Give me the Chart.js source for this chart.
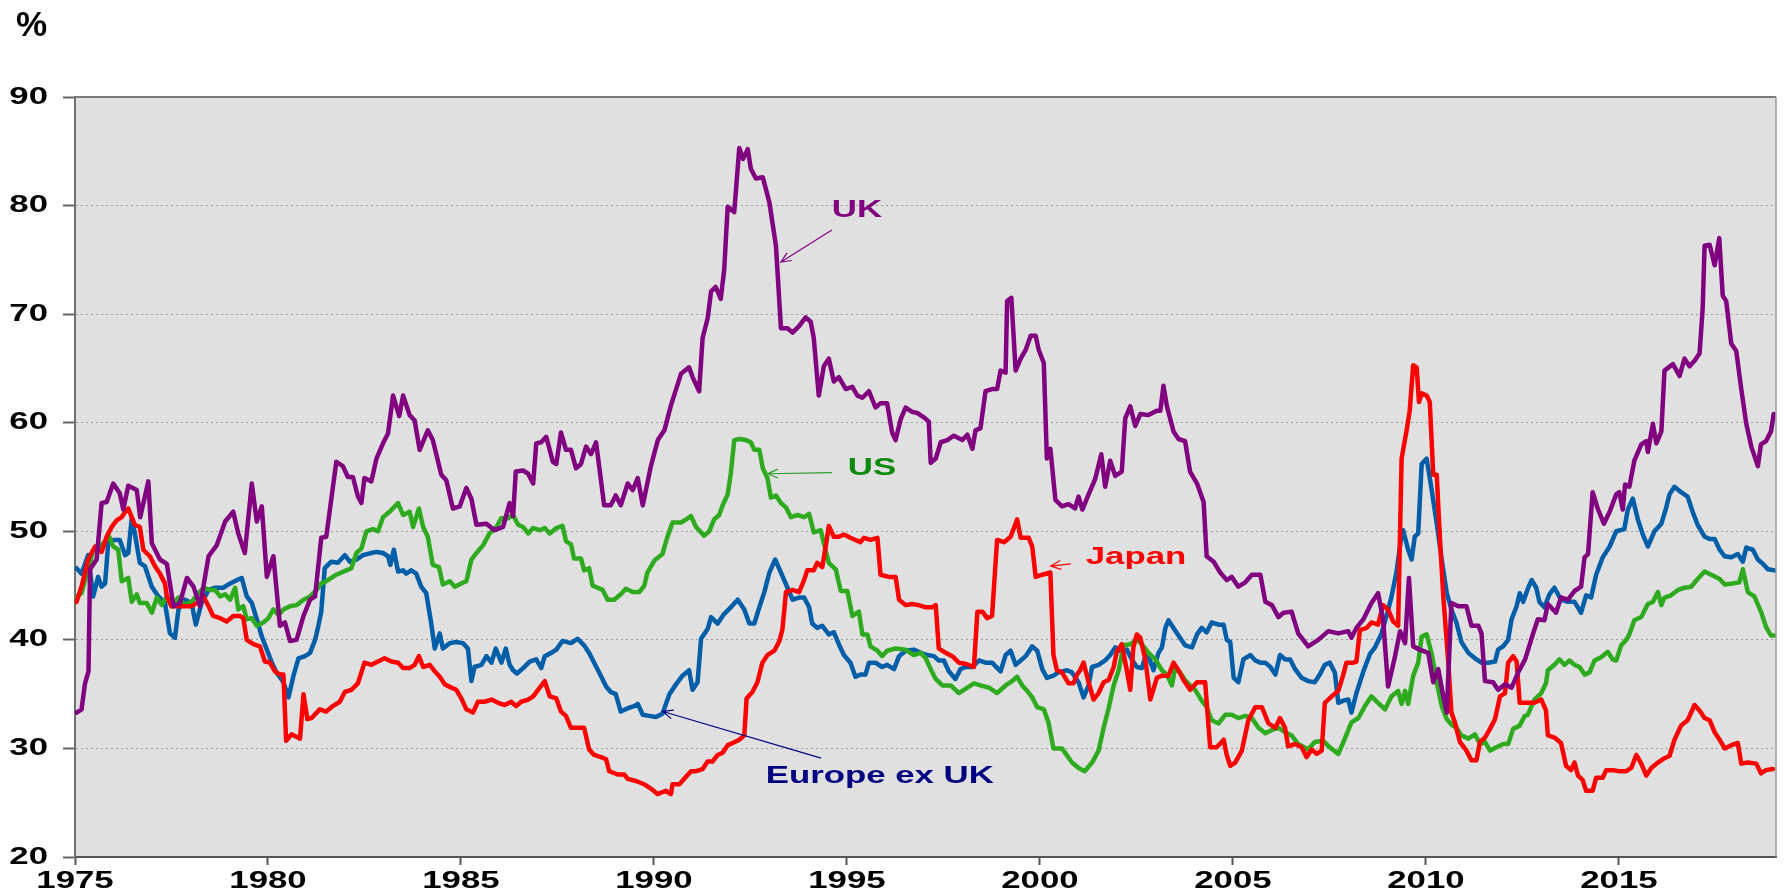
<!DOCTYPE html>
<html>
<head>
<meta charset="utf-8">
<script src="https://cdn.jsdelivr.net/npm/chart.js@4/dist/chart.umd.min.js"></script>
<style>
html,body{margin:0;padding:0;background:#ffffff;}
canvas{display:block;}
</style>
</head>
<body>
<canvas id="c" width="1785" height="893"></canvas>
<script>
// ---- axis ticks ----
const xTickValues = [1975, 1980, 1985, 1990, 1995, 2000, 2005, 2010, 2015];
const xTickLabels = ['1975', '1980', '1985', '1990', '1995', '2000', '2005', '2010', '2015'];
const yTickValues = [20, 30, 40, 50, 60, 70, 80, 90];
const yTickLabels = ['20', '30', '40', '50', '60', '70', '80', '90'];
const unitLabel = '%';

// ---- series: [year, value %] ----
const ukSeries = [
[1975.04,33.3],[1975.17,33.6],[1975.26,36],[1975.35,37.1],[1975.39,46.5],[1975.56,47.4],[1975.69,52.6],[1975.82,52.7],
[1975.99,54.4],[1976.16,53.5],[1976.25,52],[1976.38,54.2],[1976.6,53.8],[1976.69,51.3],[1976.9,54.6],[1976.99,48.9],
[1977.2,47.4],[1977.38,47],[1977.55,43.1],[1977.72,43.4],[1977.9,45.7],[1978.07,44.9],[1978.24,43.1],[1978.46,47.7],
[1978.67,48.7],[1978.89,50.9],[1979.1,51.8],[1979.23,49.8],[1979.4,48],[1979.58,54.4],[1979.71,50.9],[1979.84,52.3],
[1979.97,45.8],[1980.14,47.7],[1980.31,41.3],[1980.44,41.6],[1980.57,39.9],[1980.74,40],[1980.92,42.2],[1981.09,43.7],
[1981.22,44],[1981.38,49.4],[1981.51,49.5],[1981.77,56.4],[1981.94,56],[1982.07,55],[1982.2,55],[1982.33,53.2],
[1982.42,52.6],[1982.5,54.9],[1982.68,54.6],[1982.81,56.7],[1982.98,58.1],[1983.11,59],[1983.24,62.5],[1983.4,60.6],
[1983.5,62.5],[1983.67,60.7],[1983.8,60.2],[1983.93,57.5],[1984.14,59.3],[1984.27,58.4],[1984.49,55.2],[1984.62,54.7],
[1984.79,52.1],[1984.97,52.3],[1985.14,54],[1985.27,53],[1985.4,50.6],[1985.66,50.7],[1985.87,50.1],[1986.09,50.4],
[1986.26,52.6],[1986.35,51.4],[1986.42,55.5],[1986.61,55.6],[1986.74,55.3],[1986.87,54.4],[1986.95,58.1],[1987.08,58.2],
[1987.21,58.7],[1987.38,56.4],[1987.47,56.2],[1987.59,59.1],[1987.72,57.5],[1987.85,57.5],[1987.98,55.8],[1988.11,56.2],
[1988.24,57.8],[1988.37,57.1],[1988.5,58.2],[1988.71,52.4],[1988.88,52.4],[1989.01,53.3],[1989.14,52.4],[1989.32,54.4],
[1989.45,53.8],[1989.58,54.9],[1989.71,52.4],[1989.92,56],[1990.1,58.4],[1990.27,59.3],[1990.44,61.6],[1990.7,64.5],
[1990.91,65.1],[1991.0,64.2],[1991.17,62.9],[1991.26,67.8],[1991.39,69.6],[1991.48,72.1],[1991.6,72.5],[1991.73,71.4],
[1991.82,74.1],[1991.91,79.9],[1992.08,79.4],[1992.21,85.3],[1992.31,84.3],[1992.43,85.2],[1992.51,83.4],[1992.64,82.5],
[1992.82,82.6],[1992.99,80.3],[1993.16,76.3],[1993.29,68.7],[1993.46,68.7],[1993.59,68.3],[1993.76,68.9],[1993.93,69.7],
[1994.06,69.3],[1994.14,67.8],[1994.27,62.5],[1994.4,65.2],[1994.53,65.9],[1994.66,63.8],[1994.79,64.2],[1994.97,63.1],
[1995.14,63.3],[1995.27,62.5],[1995.4,62.3],[1995.57,62.9],[1995.74,61.4],[1995.87,61.8],[1996.04,61.8],[1996.17,59.1],
[1996.26,58.4],[1996.39,60.3],[1996.52,61.4],[1996.69,61],[1996.82,60.9],[1996.99,60.5],[1997.12,60.1],[1997.17,56.3],
[1997.3,56.7],[1997.43,58.2],[1997.6,58.4],[1997.77,58.8],[1997.99,58.4],[1998.12,58.9],[1998.25,57.6],[1998.33,59.3],
[1998.46,59.5],[1998.59,62.9],[1998.76,63.1],[1998.89,63.1],[1998.98,64.8],[1999.11,64.6],[1999.15,71.2],[1999.26,71.5],
[1999.37,64.8],[1999.5,65.9],[1999.63,66.7],[1999.76,68],[1999.89,68],[1999.97,66.7],[2000.1,65.5],[2000.18,56.7],
[2000.27,57.6],[2000.4,52.9],[2000.57,52.3],[2000.74,52.5],[2000.91,52.1],[2001.0,53.2],[2001.1,52],[2001.26,53.4],
[2001.43,54.8],[2001.59,57.1],[2001.69,54.1],[2001.82,56.5],[2001.95,55.1],[2002.12,55.5],[2002.21,60.4],[2002.34,61.5],
[2002.47,59.7],[2002.6,60.8],[2002.81,60.7],[2003.03,61.1],[2003.12,61.1],[2003.2,63.4],[2003.29,61.5],[2003.46,59.2],
[2003.59,58.5],[2003.76,58.3],[2003.89,55.5],[2004.07,54.4],[2004.24,52.7],[2004.32,47.7],[2004.5,47.2],[2004.67,46.2],
[2004.84,45.5],[2004.97,45.8],[2005.14,44.9],[2005.32,45.3],[2005.49,46],[2005.71,46],[2005.84,43.5],[2006.01,43.2],
[2006.18,42.1],[2006.31,42.5],[2006.52,42.6],[2006.69,40.6],[2006.95,39.4],[2007.21,40],[2007.47,40.8],[2007.73,40.6],
[2007.99,40.8],[2008.07,40.2],[2008.2,41.1],[2008.38,41.9],[2008.59,43.4],[2008.76,44.3],[2008.89,41.9],[2009.02,35.7],
[2009.2,38.5],[2009.33,40.8],[2009.46,39.7],[2009.56,45.7],[2009.67,39.4],[2009.84,39.1],[2010.06,38.8],[2010.19,36.1],
[2010.32,37.3],[2010.45,34.8],[2010.54,33.3],[2010.66,43.4],[2010.84,43.1],[2011.05,43.1],[2011.18,41.3],[2011.36,41.3],
[2011.44,40.6],[2011.53,36.2],[2011.74,36.1],[2011.87,35.4],[2012.05,35.9],[2012.22,35.6],[2012.39,37],[2012.57,38.2],
[2012.77,40.5],[2012.9,41.9],[2013.07,41.8],[2013.16,43.3],[2013.24,43],[2013.37,42.5],[2013.5,43.9],[2013.68,43.7],
[2013.85,44.5],[2014.02,44.9],[2014.11,47.6],[2014.2,47.9],[2014.32,53.6],[2014.45,52.1],[2014.61,50.7],[2014.76,51.8],
[2014.93,53.4],[2015.01,53.6],[2015.1,52],[2015.16,54.3],[2015.27,54.1],[2015.4,56.5],[2015.58,58],[2015.71,58.3],
[2015.75,57.3],[2015.88,59.9],[2015.97,58.1],[2016.1,59.2],[2016.18,64.8],[2016.4,65.4],[2016.57,64.3],[2016.7,65.9],
[2016.83,65.2],[2016.96,65.7],[2017.09,66.4],[2017.17,70.5],[2017.22,76.3],[2017.35,76.4],[2017.48,74.5],[2017.6,77],
[2017.69,71.7],[2017.78,71.2],[2017.91,67.3],[2018.04,66.6],[2018.17,63.1],[2018.3,59.9],[2018.43,57.8],[2018.6,56],
[2018.68,58],[2018.81,58.3],[2018.94,59.2],[2019.01,60.8]
];

const usSeries = [
[1975.04,44],[1975.17,44.3],[1975.26,45.5],[1975.39,47.1],[1975.47,48.3],[1975.65,48.6],[1975.78,49.1],[1975.89,49.5],
[1975.99,48.6],[1976.12,48.3],[1976.21,45.4],[1976.38,45.7],[1976.47,43.5],[1976.6,44.2],[1976.68,43.4],[1976.86,43.4],
[1976.99,42.5],[1977.12,43.9],[1977.25,43.2],[1977.38,44],[1977.5,43.1],[1977.68,43.9],[1977.85,43.2],[1978.02,43.5],
[1978.2,44.3],[1978.33,44.8],[1978.5,44.6],[1978.63,44.6],[1978.76,44],[1978.89,44.2],[1979.02,43.7],[1979.15,44.8],
[1979.23,42.8],[1979.36,43.1],[1979.45,41.9],[1979.58,42],[1979.71,41.3],[1979.88,41.6],[1980.01,42],[1980.14,42.8],
[1980.27,42.3],[1980.4,42.8],[1980.57,43.1],[1980.74,43.2],[1980.92,43.7],[1981.09,44],[1981.26,44.6],[1981.38,45.2],
[1981.51,45.4],[1981.77,46],[1982.03,46.4],[1982.16,46.6],[1982.29,48],[1982.42,48.4],[1982.55,50],[1982.72,50.2],
[1982.85,50],[1982.98,51.3],[1983.15,51.8],[1983.37,52.6],[1983.5,51.5],[1983.67,51.8],[1983.76,50.4],[1983.91,52.1],
[1984.02,50.4],[1984.14,49.5],[1984.27,46.9],[1984.43,46.7],[1984.53,45.1],[1984.71,45.4],[1984.84,44.9],[1985.01,45.2],
[1985.14,45.4],[1985.27,47.4],[1985.4,48],[1985.57,48.7],[1985.74,49.8],[1985.92,50.4],[1986.04,51.2],[1986.22,51.2],
[1986.35,51.5],[1986.48,50.6],[1986.61,50.4],[1986.74,49.8],[1986.87,50.3],[1987.04,50.1],[1987.17,50.3],[1987.3,49.8],
[1987.47,50.3],[1987.63,50.5],[1987.72,49.1],[1987.85,48.8],[1987.93,47.5],[1988.11,47.5],[1988.19,46.4],[1988.32,46.6],
[1988.41,45],[1988.54,44.8],[1988.67,44.6],[1988.8,43.7],[1988.97,43.7],[1989.14,44.2],[1989.27,44.7],[1989.45,44.4],
[1989.62,44.4],[1989.75,45],[1989.83,46.2],[1990.01,47.3],[1990.22,47.9],[1990.35,49.5],[1990.48,50.8],[1990.7,50.8],
[1990.96,51.4],[1991.09,50.4],[1991.3,49.6],[1991.43,50],[1991.56,51.1],[1991.69,51.5],[1991.78,52.4],[1991.91,53.4],
[1991.99,55.3],[1992.08,58.4],[1992.21,58.5],[1992.38,58.4],[1992.51,58.2],[1992.6,57.5],[1992.73,57.5],[1992.82,55.8],
[1992.94,54.9],[1993.03,53.1],[1993.16,53.3],[1993.29,52.6],[1993.42,52.2],[1993.55,51.3],[1993.72,51.5],[1993.89,51.3],
[1994.02,51.6],[1994.14,49.9],[1994.32,50.1],[1994.45,48.2],[1994.53,47.1],[1994.71,46.5],[1994.84,44.5],[1995.01,44.5],
[1995.14,42.2],[1995.31,42.6],[1995.4,40.5],[1995.53,40.5],[1995.61,39.4],[1995.79,39],[1995.91,38.5],[1996.04,39],
[1996.26,39.2],[1996.52,39.1],[1996.73,38.6],[1996.91,38.8],[1997.04,38.3],[1997.17,37.3],[1997.3,36.4],[1997.47,35.8],
[1997.69,35.8],[1997.9,35.1],[1998.12,35.6],[1998.29,36],[1998.46,35.8],[1998.68,35.6],[1998.89,35.1],[1999.11,35.8],
[1999.28,36.2],[1999.41,36.6],[1999.54,35.8],[1999.67,35.3],[1999.8,34.7],[1999.93,33.8],[2000.1,33.6],[2000.22,32.4],
[2000.35,30],[2000.57,30],[2000.83,28.7],[2001.0,28.2],[2001.16,27.9],[2001.35,28.7],[2001.52,29.8],[2001.65,31.9],
[2001.78,33.7],[2001.91,35.8],[2002.04,37.2],[2002.17,39.5],[2002.34,39.6],[2002.51,40],[2002.64,39.6],[2002.81,38.8],
[2002.99,38.2],[2003.16,37.2],[2003.29,36.8],[2003.42,35.8],[2003.5,37.4],[2003.63,37],[2003.76,36.3],[2003.89,35.8],
[2004.02,35.4],[2004.19,34.4],[2004.32,33.8],[2004.45,32.6],[2004.63,32.3],[2004.8,33.1],[2004.97,33.1],[2005.14,32.8],
[2005.32,33],[2005.49,32.8],[2005.66,31.9],[2005.84,31.4],[2006.01,31.7],[2006.18,31.9],[2006.35,31.5],[2006.52,31.2],
[2006.69,30.4],[2006.95,29.9],[2007.12,30.6],[2007.34,30.7],[2007.51,30.1],[2007.73,29.5],[2007.9,30.9],[2008.07,32.4],
[2008.25,32.8],[2008.42,33.9],[2008.59,34.8],[2008.76,34.2],[2008.94,33.6],[2009.11,34.8],[2009.28,35.3],[2009.37,34.1],
[2009.46,35.3],[2009.54,34.1],[2009.67,36.7],[2009.8,37.9],[2009.89,40.3],[2010.02,40.5],[2010.15,38.7],[2010.28,36.1],
[2010.41,33.9],[2010.54,32.7],[2010.66,32.2],[2010.79,31.9],[2010.92,31.2],[2011.1,30.9],[2011.27,31.3],[2011.4,30.4],
[2011.53,30.6],[2011.66,29.8],[2011.83,30.1],[2012.0,30.4],[2012.13,30.4],[2012.26,31.8],[2012.43,32.1],[2012.56,33],
[2012.64,33.1],[2012.81,34.5],[2012.99,35.1],[2013.11,36],[2013.16,37.2],[2013.33,37.7],[2013.46,38.2],[2013.59,37.7],
[2013.72,38.1],[2013.85,37.7],[2013.98,37.5],[2014.11,36.8],[2014.24,37],[2014.37,38.1],[2014.54,38.4],[2014.71,38.9],
[2014.84,38.2],[2014.93,38.1],[2015.06,39.5],[2015.19,40],[2015.27,40.5],[2015.4,41.8],[2015.58,42.1],[2015.75,43.3],
[2015.88,43.5],[2016.01,44.4],[2016.1,43.2],[2016.18,43.9],[2016.35,44.1],[2016.53,44.6],[2016.7,44.8],[2016.87,44.9],
[2017.04,45.6],[2017.22,46.3],[2017.39,46],[2017.61,45.6],[2017.74,45.1],[2017.95,45.2],[2018.12,45.3],[2018.21,46.5],
[2018.34,44.4],[2018.51,44],[2018.68,42.6],[2018.81,41.2],[2018.94,40.4],[2019.03,40.4]
];

const europeSeries = [
[1975.04,46.6],[1975.17,46.1],[1975.34,47.8],[1975.47,44],[1975.6,45.8],[1975.69,44.9],[1975.78,45.2],[1975.86,48.9],
[1975.99,49.2],[1976.16,49.2],[1976.3,47.8],[1976.38,48],[1976.47,51.2],[1976.55,49.8],[1976.68,47.1],[1976.81,46.8],
[1976.99,44.9],[1977.16,44],[1977.33,43.4],[1977.46,40.6],[1977.59,40.2],[1977.68,42.8],[1977.85,43.7],[1978.02,43.4],
[1978.13,41.4],[1978.28,43.4],[1978.46,44.6],[1978.63,44.8],[1978.84,44.8],[1979.02,45.2],[1979.19,45.5],[1979.32,45.7],
[1979.45,44],[1979.58,43.4],[1979.71,41.9],[1979.84,40.3],[1979.97,39.1],[1980.1,37.9],[1980.22,37],[1980.4,36.1],
[1980.53,34.7],[1980.66,36.7],[1980.79,38.3],[1980.96,38.5],[1981.09,38.8],[1981.22,40],[1981.3,41.2],[1981.38,42.6],
[1981.47,46.6],[1981.64,47.2],[1981.81,47.1],[1981.99,47.8],[1982.12,47.2],[1982.29,47.4],[1982.46,47.8],[1982.68,48],
[1982.81,48.1],[1982.98,48],[1983.11,47.7],[1983.17,46.9],[1983.26,48.3],[1983.37,46.3],[1983.5,46.4],[1983.58,46.1],
[1983.71,46.4],[1983.84,46.1],[1983.97,44.9],[1984.1,44.3],[1984.23,41.5],[1984.32,39.2],[1984.45,40.6],[1984.53,39.2],
[1984.71,39.7],[1984.88,39.8],[1985.05,39.7],[1985.18,39.2],[1985.27,36.2],[1985.35,37.5],[1985.53,37.7],[1985.66,38.5],
[1985.79,37.9],[1985.9,39.2],[1986.05,37.9],[1986.16,39.2],[1986.26,37.7],[1986.35,37.2],[1986.45,36.9],[1986.61,37.4],
[1986.78,38],[1986.95,38.2],[1987.08,37.4],[1987.17,38.5],[1987.34,38.8],[1987.47,39.1],[1987.63,39.9],[1987.85,39.7],
[1988.02,40.1],[1988.19,39.5],[1988.32,38.8],[1988.45,37.9],[1988.58,37],[1988.76,35.7],[1988.88,35.2],[1989.01,35],
[1989.14,33.4],[1989.32,33.7],[1989.49,33.9],[1989.58,34.1],[1989.71,33.1],[1989.88,33],[1990.05,32.9],[1990.22,33.2],
[1990.4,35],[1990.57,35.9],[1990.74,36.7],[1990.91,37.2],[1991.0,35.4],[1991.13,36.1],[1991.22,40.1],[1991.39,41],
[1991.48,42.1],[1991.65,41.5],[1991.82,42.4],[1991.99,43],[1992.17,43.7],[1992.34,42.8],[1992.47,41.5],[1992.6,41.5],
[1992.73,43],[1992.86,44.4],[1992.99,46.2],[1993.14,47.4],[1993.29,46.2],[1993.46,44.8],[1993.59,43.7],[1993.76,43.9],
[1993.89,43.9],[1994.02,43],[1994.1,41.5],[1994.23,41.1],[1994.36,41.3],[1994.53,40.5],[1994.66,40.7],[1994.79,39.6],
[1994.92,38.6],[1995.09,37.9],[1995.22,36.6],[1995.35,36.8],[1995.48,36.8],[1995.57,37.9],[1995.74,37.9],[1995.91,37.5],
[1996.04,37.7],[1996.22,37.3],[1996.35,38.5],[1996.52,39],[1996.73,39.1],[1996.91,38.8],[1997.08,38.6],[1997.25,38.5],
[1997.38,38.1],[1997.51,38.1],[1997.64,37.1],[1997.81,36.4],[1997.94,37.3],[1998.07,37.5],[1998.25,37.5],[1998.42,38.1],
[1998.59,37.9],[1998.76,37.9],[1998.98,37.1],[1999.11,38.6],[1999.24,39],[1999.37,37.7],[1999.5,38.1],[1999.63,38.5],
[1999.8,39.4],[1999.93,39],[2000.06,37.3],[2000.18,36.5],[2000.35,36.7],[2000.48,37],[2000.7,37.2],[2000.83,37],
[2001.0,36.1],[2001.13,34.7],[2001.26,35.8],[2001.35,37.5],[2001.52,37.7],[2001.69,38.1],[2001.82,38.6],[2001.95,39.3],
[2002.12,38.9],[2002.25,39.1],[2002.38,38.2],[2002.51,37.5],[2002.64,37.4],[2002.77,38.9],[2002.94,37.2],[2003.07,38.8],
[2003.16,39.3],[2003.25,41.1],[2003.33,41.8],[2003.46,41.1],[2003.59,40.4],[2003.76,39.5],[2003.94,39.3],[2004.07,40.5],
[2004.19,41.1],[2004.32,40.7],[2004.45,41.6],[2004.63,41.4],[2004.76,41.4],[2004.84,40],[2004.93,39.8],[2005.02,36.5],
[2005.14,36.1],[2005.27,38.2],[2005.45,38.6],[2005.58,38.1],[2005.71,37.9],[2005.84,37.9],[2005.97,37.5],[2006.1,36.8],
[2006.22,38.6],[2006.35,38.2],[2006.48,38.2],[2006.61,37.3],[2006.78,36.5],[2006.95,36.2],[2007.12,36.1],[2007.25,36.8],
[2007.38,37.7],[2007.51,37.9],[2007.64,37],[2007.73,34.2],[2007.86,34.4],[2007.99,34.5],[2008.07,33.3],[2008.2,35.1],
[2008.38,37.1],[2008.55,38.7],[2008.68,39.3],[2008.85,40.6],[2008.98,42.2],[2009.11,44],[2009.24,46.3],[2009.35,49.2],
[2009.41,50.1],[2009.54,48.3],[2009.63,47.4],[2009.71,49.5],[2009.8,49.8],[2009.89,56.2],[2010.02,56.7],[2010.15,53.8],
[2010.28,50.7],[2010.41,47.4],[2010.54,44.3],[2010.66,42.8],[2010.79,41.6],[2010.92,39.8],[2011.1,38.8],[2011.27,38.3],
[2011.44,37.9],[2011.61,37.9],[2011.79,38],[2011.87,39.1],[2012.0,39.4],[2012.13,40],[2012.22,41.9],[2012.35,43.1],
[2012.43,44.3],[2012.52,43.5],[2012.65,44.8],[2012.74,45.5],[2012.86,44.8],[2012.94,43.5],[2013.07,43],[2013.2,44.2],
[2013.33,44.8],[2013.5,43.7],[2013.68,43.5],[2013.85,43.5],[2014.02,42.5],[2014.15,44.1],[2014.28,43.9],[2014.41,46],
[2014.58,47.6],[2014.76,48.6],[2014.93,50],[2015.14,50.2],[2015.23,52],[2015.36,53],[2015.49,51.1],[2015.62,49.7],
[2015.75,48.6],[2015.92,50],[2016.1,50.7],[2016.22,52.1],[2016.31,53.4],[2016.44,54.1],[2016.61,53.6],[2016.78,53.2],
[2016.91,51.8],[2017.04,50.6],[2017.22,49.5],[2017.35,49.3],[2017.48,49.3],[2017.61,48.3],[2017.74,47.7],[2017.91,47.6],
[2018.08,47.9],[2018.21,47.2],[2018.3,48.5],[2018.47,48.3],[2018.6,47.4],[2018.73,47],[2018.86,46.5],[2019.03,46.4]
];

const japanSeries = [
[1975.04,43.5],[1975.17,44.9],[1975.34,47.4],[1975.52,48.6],[1975.69,48.1],[1975.82,49.5],[1975.95,50.4],[1976.08,51],
[1976.21,51.3],[1976.3,51.8],[1976.38,52.1],[1976.47,51.3],[1976.55,50.6],[1976.68,50.4],[1976.77,48.3],[1976.94,47.7],
[1977.07,46.8],[1977.2,46.1],[1977.33,45.2],[1977.38,44],[1977.5,43.1],[1977.68,43.1],[1977.85,43.1],[1978.02,43.1],
[1978.2,43.5],[1978.33,44],[1978.46,43.1],[1978.58,42.2],[1978.76,42],[1978.93,41.7],[1979.1,42.2],[1979.27,42.2],
[1979.36,42],[1979.45,40],[1979.62,39.6],[1979.79,39.4],[1979.92,38],[1980.05,37.9],[1980.18,37.1],[1980.31,36.8],
[1980.4,36.8],[1980.47,30.7],[1980.61,31.3],[1980.83,30.9],[1980.92,35],[1981.02,32.7],[1981.13,32.8],[1981.34,33.6],
[1981.51,33.4],[1981.68,33.9],[1981.86,34.3],[1981.99,35.2],[1982.16,35.4],[1982.33,36],[1982.5,37.9],[1982.68,37.7],
[1982.85,38],[1983.02,38.3],[1983.2,38],[1983.37,37.9],[1983.5,37.4],[1983.67,37.4],[1983.8,37.7],[1983.91,38.5],
[1984.02,37.5],[1984.19,37.7],[1984.32,37.1],[1984.45,36.6],[1984.58,35.9],[1984.75,35.6],[1984.88,35.4],[1985.01,34.6],
[1985.14,33.6],[1985.31,33.3],[1985.44,34.3],[1985.61,34.3],[1985.79,34.5],[1985.96,34.2],[1986.13,34],[1986.3,34.3],
[1986.43,33.9],[1986.56,34.3],[1986.74,34.5],[1986.87,34.8],[1987.04,35.6],[1987.17,36.2],[1987.3,34.8],[1987.47,34.6],
[1987.59,33.4],[1987.72,33],[1987.85,31.9],[1988.02,31.9],[1988.19,31.9],[1988.32,29.9],[1988.45,29.4],[1988.63,29.2],
[1988.76,29],[1988.84,27.9],[1989.06,27.6],[1989.23,27.6],[1989.32,27.2],[1989.53,27],[1989.75,26.7],[1989.92,26.3],
[1990.09,25.8],[1990.31,26.1],[1990.44,25.8],[1990.48,26.7],[1990.66,26.7],[1990.83,27.4],[1990.96,27.9],[1991.09,27.9],
[1991.26,28.1],[1991.39,28.8],[1991.52,28.8],[1991.65,29.4],[1991.78,29.6],[1991.91,30.3],[1992.04,30.5],[1992.21,30.8],
[1992.34,31.2],[1992.4,34.6],[1992.55,35.2],[1992.68,36.1],[1992.81,37.9],[1992.94,38.6],[1993.12,39],[1993.25,39.9],
[1993.33,41],[1993.42,44.4],[1993.59,44.6],[1993.76,44.4],[1993.89,45.5],[1993.97,46.4],[1994.14,46.4],[1994.23,47.1],
[1994.36,46.7],[1994.45,48.6],[1994.53,50.5],[1994.66,49.5],[1994.79,49.5],[1994.92,49.7],[1995.09,49.4],[1995.22,49.2],
[1995.35,49],[1995.44,49.4],[1995.61,49.2],[1995.79,49.4],[1995.87,46],[1996.09,45.8],[1996.26,45.8],[1996.35,43.7],
[1996.52,43.2],[1996.69,43.3],[1996.86,43.2],[1997.04,43],[1997.21,43],[1997.3,43.2],[1997.38,39.2],[1997.56,38.8],
[1997.73,38.5],[1997.9,37.9],[1998.07,37.8],[1998.29,37.5],[1998.38,42.6],[1998.51,42.6],[1998.63,42],[1998.76,42.2],
[1998.89,49.2],[1999.07,49],[1999.24,49.5],[1999.41,51.1],[1999.5,49.4],[1999.71,49.4],[1999.8,48.6],[1999.89,45.8],
[2000.06,46],[2000.27,46.2],[2000.35,38.6],[2000.44,37.2],[2000.57,37],[2000.74,36],[2000.87,36],[2000.96,36.8],
[2001.04,37.2],[2001.13,37.9],[2001.26,36.1],[2001.39,34.5],[2001.52,35.1],[2001.65,36.1],[2001.78,36.3],[2001.91,37.5],
[2001.99,38.9],[2002.12,39.6],[2002.25,37.2],[2002.34,35.4],[2002.42,39.3],[2002.51,40.5],[2002.6,40.2],[2002.73,38.2],
[2002.86,34.5],[2003.03,36.5],[2003.16,36.7],[2003.33,36.7],[2003.46,37.9],[2003.59,37.2],[2003.72,36.3],[2003.89,35.4],
[2004.07,36.1],[2004.28,36.1],[2004.41,30.1],[2004.58,30.1],[2004.76,30.8],[2004.84,29.4],[2004.93,28.4],[2005.06,28.7],
[2005.23,29.8],[2005.4,32.6],[2005.58,33.8],[2005.75,33.8],[2005.92,32.3],[2006.1,31.9],[2006.22,32.8],[2006.35,31.9],
[2006.43,30.2],[2006.61,30.4],[2006.78,30.1],[2006.91,29.2],[2007.04,29.9],[2007.17,29.5],[2007.3,29.8],[2007.38,34.2],
[2007.56,34.8],[2007.73,35.3],[2007.86,36.8],[2007.94,37.9],[2008.12,37.9],[2008.2,38],[2008.29,40.9],[2008.46,41.1],
[2008.59,41.6],[2008.76,41.4],[2008.89,43.2],[2009.02,42.8],[2009.15,41.7],[2009.28,41.3],[2009.37,56.7],[2009.5,59.3],
[2009.58,61.1],[2009.67,65.3],[2009.76,65.1],[2009.82,61.9],[2009.89,62.7],[2010.02,62.5],[2010.1,61.9],[2010.19,55.2],
[2010.28,55.2],[2010.36,49.5],[2010.45,44],[2010.58,37.9],[2010.66,33.3],[2010.75,32.4],[2010.88,30.6],[2011.05,29.8],
[2011.18,28.9],[2011.31,28.9],[2011.4,30.6],[2011.53,31],[2011.66,31.8],[2011.79,32.7],[2011.92,34.8],[2012.05,35.1],
[2012.13,37.9],[2012.26,38.5],[2012.35,38],[2012.43,34.2],[2012.61,34.2],[2012.81,34.2],[2012.99,34.5],[2013.11,33.5],
[2013.16,31.2],[2013.33,31],[2013.5,30.5],[2013.63,28.4],[2013.76,28],[2013.85,28.7],[2013.94,27.5],[2014.06,27.1],
[2014.15,26.1],[2014.32,26.1],[2014.41,27.3],[2014.58,27.3],[2014.67,28],[2014.84,28],[2015.01,27.9],[2015.19,27.9],
[2015.32,28.2],[2015.45,29.4],[2015.58,28.6],[2015.71,27.5],[2015.84,28.2],[2016.01,28.7],[2016.18,29.1],[2016.31,29.3],
[2016.44,30.8],[2016.61,32.1],[2016.78,32.6],[2016.96,34],[2017.09,33.5],[2017.22,32.8],[2017.35,32.6],[2017.48,31.5],
[2017.61,30.8],[2017.74,30],[2017.91,30.3],[2018.08,30.5],[2018.17,28.6],[2018.34,28.7],[2018.56,28.6],[2018.68,27.7],
[2018.81,28],[2018.99,28.1]
];

const seriesNames = ['UK', 'Japan', 'US', 'Europe ex UK'];

// ---- styling / annotation layout (kept apart from the data) ----
const seriesColors = ['#800080', '#ff0000', '#2eaa1e', '#005ea8'];
const labelColors  = ['#800080', '#ff0000', '#0a8a0a', '#000080'];
const arrowColors  = ['#800080', '#ff0000', '#2a9a2a', '#000080'];
const labelSpecs = [
  {text: 'UK',           tx: 1995.26, ty: 79.6, ax: 1994.61, ay: 77.75, bx: 1993.29, by: 74.8},
  {text: 'Japan',        tx: 2002.49, ty: 47.6, ax: 2000.80, ay: 47.0,  bx: 2000.28, by: 46.8},
  {text: 'US',           tx: 1995.65, ty: 55.8, ax: 1994.61, ay: 55.4,  bx: 1992.95, by: 55.3},
  {text: 'Europe ex UK', tx: 1995.85, ty: 27.4, ax: 1994.33, ay: 29.1,  bx: 1990.23, by: 33.4}
];
const TEXT_STRETCH = 1.45;   // the original lettering is horizontally widened

const toPoints = s => s.map(p => ({x: p[0], y: p[1]}));
const allSeries = [ukSeries, japanSeries, usSeries, europeSeries];

// widen every glyph run drawn on the chart canvas around its anchor point
function installStretch(ctx) {
  if (ctx.__stretchInstalled) return;
  const orig = ctx.fillText;
  ctx.fillText = function (text, x, y) {
    const k = this.__hStretch || 1;
    if (k === 1) return orig.call(this, text, x, y);
    this.save();
    this.translate(x, y);
    this.scale(k, 1);
    orig.call(this, text, 0, 0);
    this.restore();
  };
  ctx.__stretchInstalled = true;
}

const framePlugin = {
  id: 'frame',
  beforeDraw(chart) {
    const {ctx, chartArea: a} = chart;
    installStretch(ctx);
    ctx.__hStretch = TEXT_STRETCH;
    ctx.save();
    ctx.fillStyle = '#e0e0e0';
    ctx.fillRect(a.left, a.top, a.right - a.left, a.bottom - a.top);
    ctx.restore();
  },
  afterDraw(chart) {
    const {ctx, chartArea: a, scales} = chart;
    const xs = scales.x, ys = scales.y;
    ctx.save();
    // top and right frame
    ctx.strokeStyle = '#7a7a7a';
    ctx.lineWidth = 2;
    ctx.beginPath();
    ctx.moveTo(a.left, a.top); ctx.lineTo(a.right, a.top);
    ctx.stroke();
    ctx.strokeStyle = '#9a9a9a';
    ctx.lineWidth = 1.5;
    ctx.beginPath();
    ctx.moveTo(a.right, a.top); ctx.lineTo(a.right, a.bottom);
    ctx.stroke();

    // series labels with arrows
    labelSpecs.forEach((s, i) => {
      const fx = xs.getPixelForValue(s.ax), fy = ys.getPixelForValue(s.ay);
      const tx = xs.getPixelForValue(s.bx), ty = ys.getPixelForValue(s.by);
      ctx.strokeStyle = arrowColors[i];
      ctx.lineWidth = 1.2;
      ctx.beginPath();
      ctx.moveTo(fx, fy); ctx.lineTo(tx, ty);
      const ang = Math.atan2(ty - fy, tx - fx);
      const L = 11, w = 0.42;
      ctx.moveTo(tx - L * Math.cos(ang - w), ty - L * Math.sin(ang - w));
      ctx.lineTo(tx, ty);
      ctx.lineTo(tx - L * Math.cos(ang + w), ty - L * Math.sin(ang + w));
      ctx.stroke();

      ctx.__hStretch = TEXT_STRETCH;
      ctx.font = 'bold 24px "Liberation Sans", Arial, sans-serif';
      ctx.fillStyle = labelColors[i];
      ctx.textAlign = 'center';
      ctx.textBaseline = 'middle';
      ctx.fillText(s.text, xs.getPixelForValue(s.tx), ys.getPixelForValue(s.ty));
    });

    // unit label
    ctx.__hStretch = 1;
    ctx.font = 'bold 35px "Liberation Sans", Arial, sans-serif';
    ctx.fillStyle = '#000';
    ctx.textAlign = 'left';
    ctx.textBaseline = 'alphabetic';
    ctx.fillText(unitLabel, 16, 36);
    ctx.restore();
    ctx.__hStretch = TEXT_STRETCH;
  }
};

const tickFont = {family: '"Liberation Sans", Arial, sans-serif', weight: 'bold', size: 24};

new Chart(document.getElementById('c').getContext('2d'), {
  type: 'line',
  data: {
    datasets: allSeries.map((s, i) => ({
      label: seriesNames[i],
      data: toPoints(s),
      borderColor: seriesColors[i],
      backgroundColor: seriesColors[i],
      borderWidth: 4.5,
      pointRadius: 0,
      tension: 0,
      fill: false,
      borderJoinStyle: 'round',
      borderCapStyle: 'round'
    }))
  },
  options: {
    responsive: false,
    animation: false,
    devicePixelRatio: 1,
    layout: {padding: {top: 97, right: 9, bottom: 0, left: 0}},
    plugins: {legend: {display: false}, tooltip: {enabled: false}},
    scales: {
      x: {
        type: 'linear',
        min: 1975,
        max: 2019.07,
        afterBuildTicks: s => { s.ticks = xTickValues.map(v => ({value: v})); },
        afterFit: s => { s.height = 36; },
        grid: {drawOnChartArea: false, drawTicks: true, tickLength: 8, tickColor: '#555', tickWidth: 2},
        border: {display: true, color: '#555', width: 2},
        ticks: {font: tickFont, color: '#000', padding: 2, maxRotation: 0, autoSkip: false,
                callback: (v, i) => xTickLabels[i]}
      },
      y: {
        min: 20,
        max: 90,
        afterBuildTicks: s => { s.ticks = yTickValues.map(v => ({value: v})); },
        afterFit: s => { s.width = 75; },
        grid: {color: '#9c9c9c', lineWidth: 1, drawTicks: true, tickLength: 12, tickColor: '#666', tickWidth: 2, tickBorderDash: []},
        border: {display: true, color: '#707070', width: 2, dash: [2, 3]},
        ticks: {font: tickFont, color: '#000', padding: 15, callback: (v, i) => yTickLabels[i]}
      }
    }
  },
  plugins: [framePlugin]
});
</script>
</body>
</html>
